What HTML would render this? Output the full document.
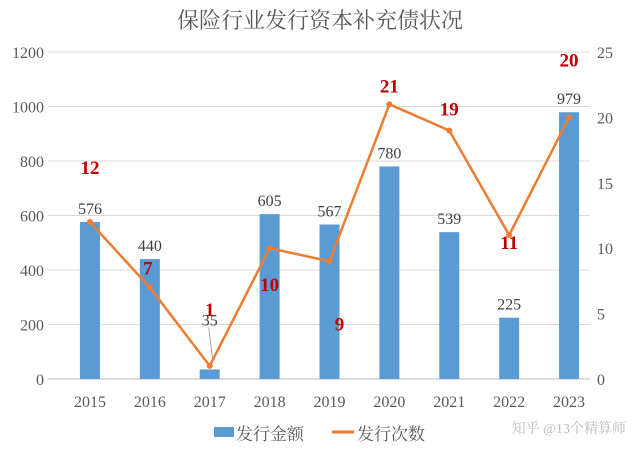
<!DOCTYPE html>
<html><head><meta charset="utf-8"><style>
html,body{margin:0;padding:0;background:#fff;}
svg text{font-family:"Liberation Serif","Noto Serif CJK SC",serif;}
</style></head><body>
<svg width="639" height="454" viewBox="0 0 639 454" xmlns="http://www.w3.org/2000/svg">
<rect width="639" height="454" fill="#fff"/>
<text x="320" y="28" text-anchor="middle" font-size="22" fill="#595959">保险行业发行资本补充债状况</text>
<g id="grid"></g><g id="bars"></g><g id="line"></g><g id="labels"></g>
<g>
<rect x="214" y="427" width="20" height="10" fill="#5B9BD5"/>
<text x="236" y="440" font-size="17" fill="#595959">发行金额</text>
<line x1="332" y1="432" x2="354" y2="432" stroke="#ED7D31" stroke-width="3"/>
<text x="357" y="440" font-size="17" fill="#595959">发行次数</text>
</g>
<text x="626" y="433" text-anchor="end" font-size="14" fill="#bbb" font-family="Liberation Sans,Noto Sans CJK SC,sans-serif">知乎 @13个精算师</text>
</svg>
<script>
const categories=["2015","2016","2017","2018","2019","2020","2021","2022","2023"];
const amounts=[576,440,35,605,567,780,539,225,979];
const counts=[12,7,1,10,9,21,19,11,20];
const leftTicks=[0,200,400,600,800,1000,1200];
const rightTicks=[0,5,10,15,20,25];
const countLabelDy=[-48,-13,-50,43,69,-12,-15,14,-51];
const countLabelDx=[0,-2,0,0,10,0,0,0,0];
const NS="http://www.w3.org/2000/svg";
const g0=48,g1=590,b0=60,b1=599,yB=379,yT=52;
const xs=i=>b0+(b1-b0)/categories.length*(i+0.5);
const yL=v=>yB-(v/1200)*(yB-yT);
const yR=v=>yB-(v/25)*(yB-yT);
function mk(t,a,p){const e=document.createElementNS(NS,t);for(const k in a)e.setAttribute(k,a[k]);p.appendChild(e);return e;}
const grid=document.getElementById('grid'),bars=document.getElementById('bars'),line=document.getElementById('line'),labels=document.getElementById('labels');
leftTicks.forEach(v=>{
 const l=mk('line',{x1:g0,x2:g1,y1:yL(v),y2:yL(v),stroke:v===0?'#bfbfbf':'#d9d9d9','stroke-width':1},grid);
 
 
 const t=mk('text',{x:44,y:yL(v)+6,'text-anchor':'end','font-size':16,fill:'#595959'},grid);t.textContent=v;
 
 
});
rightTicks.forEach(v=>{
 const t=mk('text',{x:597,y:yR(v)+6,'font-size':16,fill:'#595959'},grid);t.textContent=v;
 
 
});
categories.forEach((c,i)=>{
 const t=mk('text',{x:xs(i),y:407,'text-anchor':'middle','font-size':16,fill:'#595959'},grid);t.textContent=c;
 
 
});
amounts.forEach((v,i)=>{
 const r=mk('rect',{x:xs(i)-10,y:yL(v),width:20,height:yB-yL(v),fill:'#5B9BD5'},bars);
 
 
 const ty=v<100?yL(v)-44:yL(v)-8;
 if(v<100){const ll=mk('line',{x1:xs(i)-1,y1:ty+2,x2:xs(i)+3,y2:yR(counts[i])-6,stroke:'#999','stroke-width':0.8},labels);
  
  }
 const t=mk('text',{x:xs(i),y:ty,'text-anchor':'middle','font-size':16,fill:'#404040'},labels);t.textContent=v;
 
 
});
const pts=counts.map((v,i)=>xs(i)+','+yR(v)).join(' ');
const pl=mk('polyline',{points:pts,fill:'none',stroke:'#ED7D31','stroke-width':2.5,'stroke-linejoin':'round'},line);


counts.forEach((v,i)=>{
 const c=mk('circle',{cx:xs(i),cy:yR(v),r:3,fill:'#ED7D31'},line);
 
 
 const t=mk('text',{x:xs(i)+countLabelDx[i],y:yR(v)+countLabelDy[i],'text-anchor':'middle','font-size':19,'font-weight':'bold',fill:'#C00000'},labels);t.textContent=v;
 
 
});
</script>
</body></html>
